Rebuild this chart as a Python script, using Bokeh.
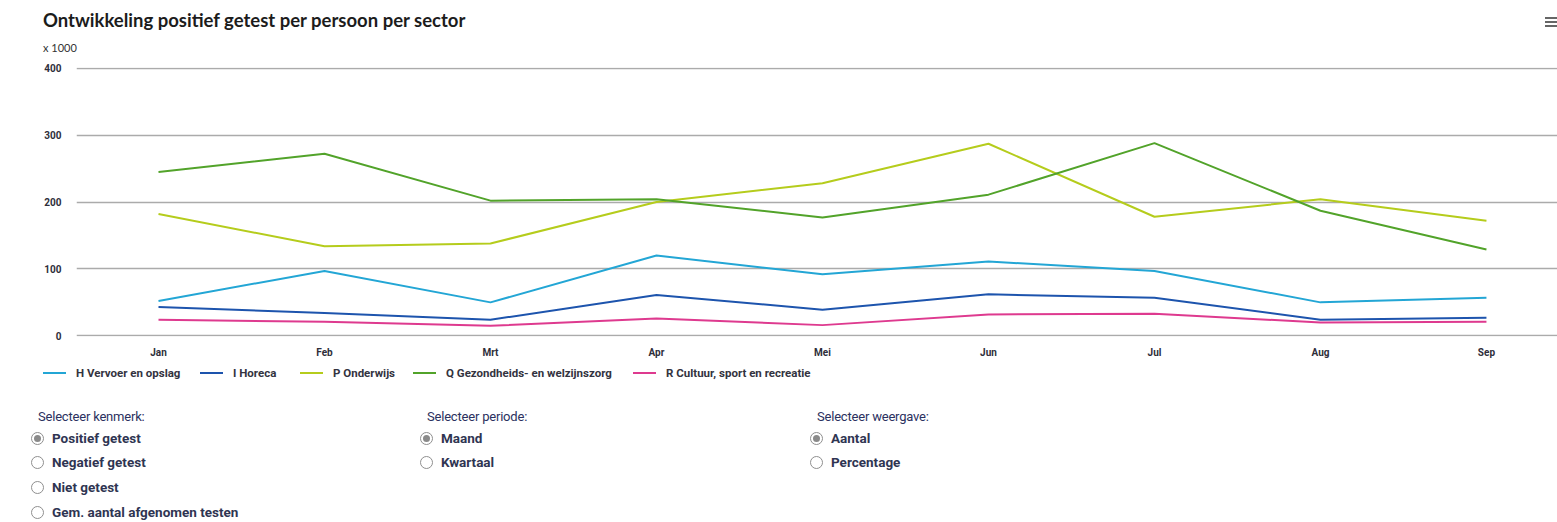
from bokeh.plotting import figure
from bokeh.models import Range1d, FixedTicker, Div
from bokeh.layouts import column
from bokeh.embed import file_html
from bokeh.resources import INLINE

# ---------------- data ----------------
titel = "Ontwikkeling positief getest per persoon per sector"
eenheid = "x 1000"
maanden = ["Jan", "Feb", "Mrt", "Apr", "Mei", "Jun", "Jul", "Aug", "Sep"]
sectoren = [
    "H Vervoer en opslag",
    "I Horeca",
    "P Onderwijs",
    "Q Gezondheids- en welzijnszorg",
    "R Cultuur, sport en recreatie",
]
h_vervoer = [52, 97, 50, 120, 92, 111, 97, 50, 57]
i_horeca = [43, 34, 24, 61, 39, 62, 57, 24, 27]
p_onderwijs = [182, 134, 138, 200, 228, 287, 178, 204, 172]
q_zorg = [245, 272, 202, 204, 177, 211, 288, 187, 129]
r_cultuur = [24, 21, 15, 26, 16, 32, 33, 20, 21]
y_ticks = [0, 100, 200, 300, 400]

kenmerken = ["Positief getest", "Negatief getest", "Niet getest", "Gem. aantal afgenomen testen"]
perioden = ["Maand", "Kwartaal"]
weergaven = ["Aantal", "Percentage"]
groepen = [
    ("Selecteer kenmerk:", kenmerken, 0),
    ("Selecteer periode:", perioden, 0),
    ("Selecteer weergave:", weergaven, 0),
]

# ---------------- styles ----------------
COLORS = ["#23a6d5", "#1d54ad", "#b5cc1c", "#52a32a", "#de3a8f"]
FONT = "Roboto"
W = 1557
H0 = 60     # header (title)
H1 = 300    # chart
H2 = 162    # legend + controls

# ---------------- header (HTML) ----------------
bars = "".join(
    f'<span style="position:absolute;left:0;top:{t}px;width:12px;height:2px;background:#666"></span>'
    for t in (0, 4, 8))
header_html = (
    f'<div style="position:relative;width:{W}px;height:{H0}px;background:#fff">'
    f'<div style="position:absolute;left:43px;top:8px;font:bold 18.5px Lato,sans-serif;'
    f'color:#1c1c1c;white-space:nowrap;line-height:24px">{titel}</div>'
    f'<div style="position:absolute;left:43px;top:40px;font:11px Lato,sans-serif;'
    f'color:#333;white-space:nowrap;line-height:16px">{eenheid}</div>'
    f'<div style="position:absolute;left:1545px;top:17px;width:12px;height:10px">{bars}</div>'
    '</div>')
header = Div(text=header_html, width=W, height=H0, margin=0)

# ---------------- chart ----------------
p = figure(width=W, height=H1, output_backend="svg", toolbar_location=None,
           x_range=Range1d(-0.494, 8.428), y_range=Range1d(-1, 401),
           min_border_left=76, min_border_right=0, min_border_top=7,
           min_border_bottom=24)
p.title.visible = False
p.outline_line_color = None
p.background_fill_color = "white"
p.border_fill_color = "white"

series = [h_vervoer, i_horeca, p_onderwijs, q_zorg, r_cultuur]
xs = list(range(len(maanden)))
for name, vals, col in zip(sectoren, series, COLORS):
    p.line(xs, vals, line_color=col, line_width=2)

p.xaxis.ticker = FixedTicker(ticks=xs)
p.xaxis.major_label_overrides = {i: m for i, m in enumerate(maanden)}
p.yaxis.ticker = FixedTicker(ticks=y_ticks)
for ax in (p.xaxis[0], p.yaxis[0]):
    ax.axis_line_color = None
    ax.major_tick_line_color = None
    ax.minor_tick_line_color = None
    ax.major_tick_out = 0
    ax.major_tick_in = 0
    ax.major_label_text_font = FONT
    ax.major_label_text_font_style = "bold"
    ax.major_label_text_font_size = "10px"
    ax.major_label_text_color = "#2e2e3a"
p.yaxis.major_label_standoff = 15
p.xaxis.major_label_standoff = 10

p.xgrid.grid_line_color = None
p.ygrid.ticker = FixedTicker(ticks=y_ticks)
p.ygrid.grid_line_color = "#ababab"
p.ygrid.grid_line_width = 1.3

# ---------------- legend + controls (HTML) ----------------
legend_x = [43, 200, 300, 413, 633]
parts = []
for lx, name, col in zip(legend_x, sectoren, COLORS):
    parts.append(
        f'<div style="position:absolute;left:{lx}px;top:5px;height:16px;display:flex;'
        f'align-items:center">'
        f'<span style="display:inline-block;width:23px;height:2px;background:{col};'
        f'margin-right:10px"></span>'
        f'<span style="font:bold 11.5px {FONT},sans-serif;color:#333340;white-space:nowrap">'
        f'{name}</span></div>')

off = 392 - (H0 + H1)
group_x = [38, 427, 817]
radio_dx = -1
text_dx = 14
label_y = 25 + off
row_y = [46 + off, 70 + off, 95 + off, 120 + off]

for gx, (lab, opts, sel) in zip(group_x, groepen):
    parts.append(
        f'<div style="position:absolute;left:{gx}px;top:{label_y - 9}px;'
        f'font:13px {FONT},sans-serif;letter-spacing:-0.2px;color:#2b3160;'
        f'white-space:nowrap;line-height:18px">{lab}</div>')
    for k, opt in enumerate(opts):
        cy = row_y[k]
        cx = gx + radio_dx
        dot = ('<span style="position:absolute;left:2px;top:2px;width:7px;height:7px;'
               'border-radius:50%;background:#8a8a8a"></span>') if k == sel else ''
        parts.append(
            f'<span style="position:absolute;left:{cx - 6}px;top:{cy - 6}px;width:11px;'
            f'height:11px;border:1px solid #8f8f8f;border-radius:50%;background:#fff;'
            f'box-sizing:content-box">{dot}</span>')
        parts.append(
            f'<div style="position:absolute;left:{gx + text_dx}px;top:{cy - 9}px;'
            f'font:bold 13.5px {FONT},sans-serif;color:#2f3552;'
            f'white-space:nowrap;line-height:18px">{opt}</div>')

html = (f'<div style="position:relative;width:{W}px;height:{H2}px;background:#fff">'
        + "".join(parts) + '</div>')
controls = Div(text=html, width=W, height=H2, margin=0)

layout = column(header, p, controls, spacing=0)
open("out.html", "w").write(file_html(layout, INLINE))
